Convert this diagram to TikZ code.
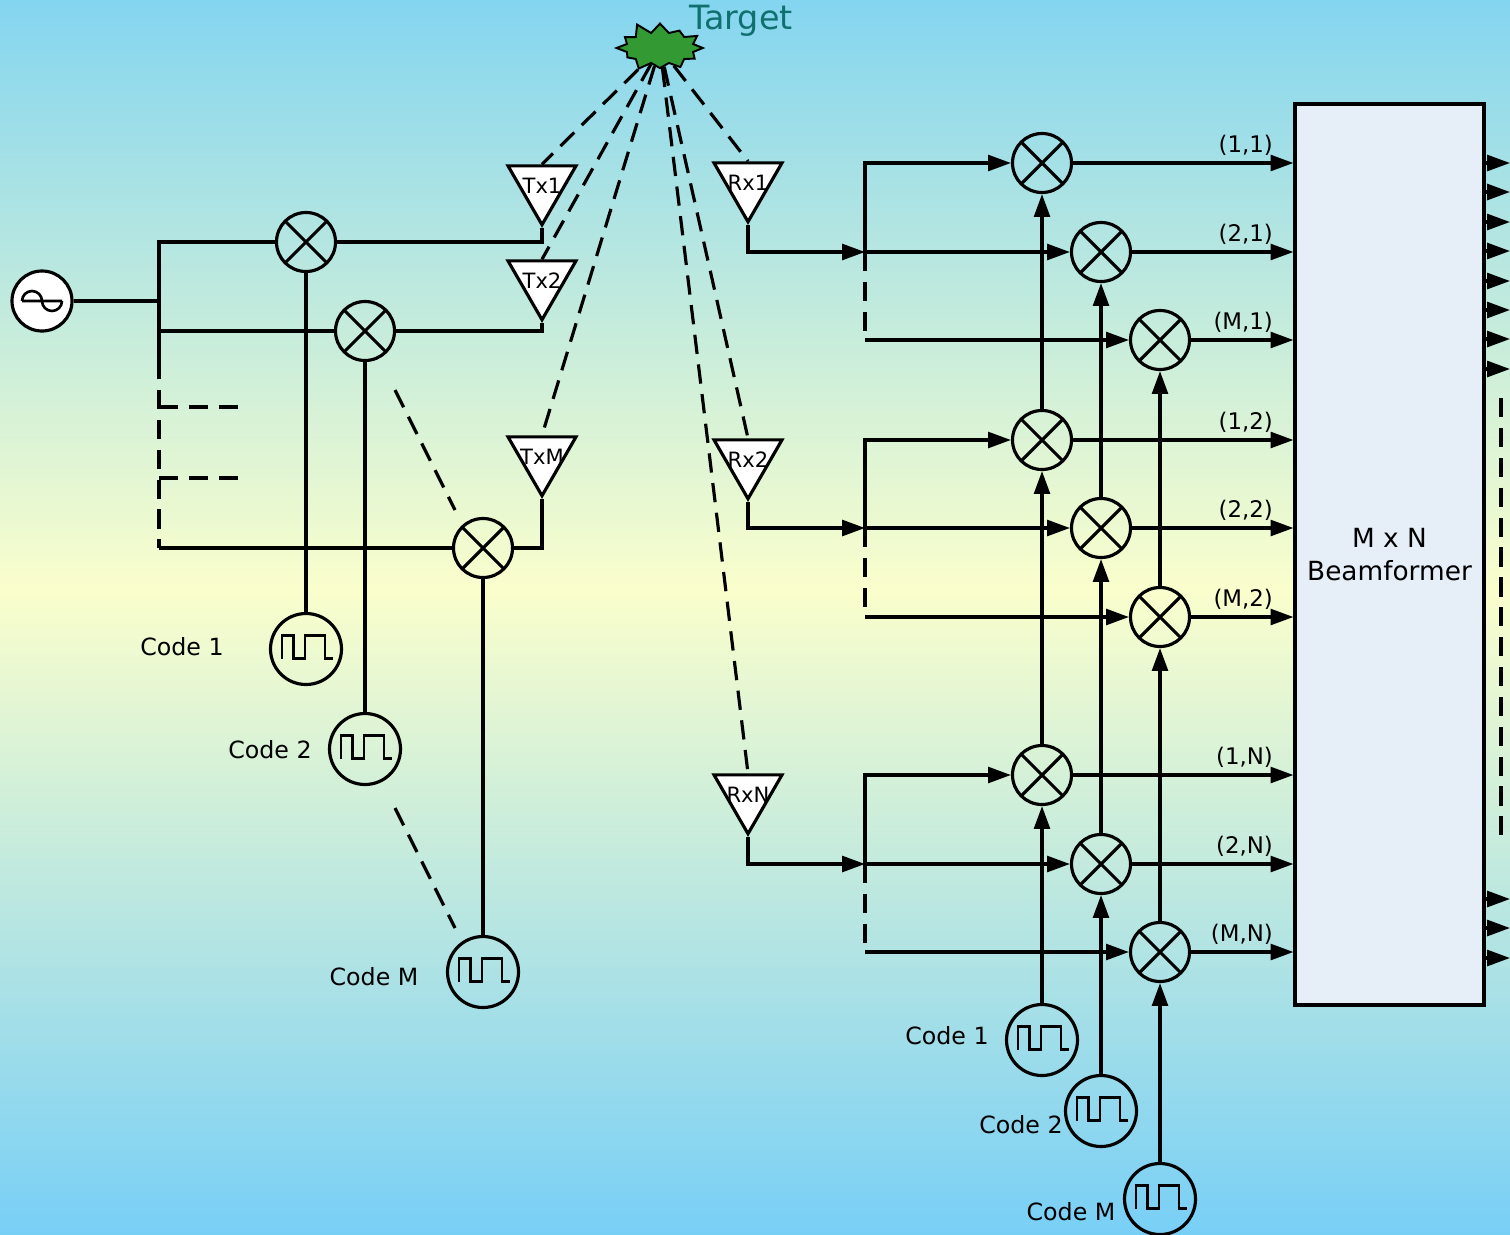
\documentclass[tikz,border=0pt]{standalone}
\usepackage{fontspec}
\setmainfont{DejaVu Sans}
\usetikzlibrary{positioning, arrows.meta, shapes.geometric, shapes.symbols}

\definecolor{skytop}{RGB}{132,213,240}
\definecolor{paleyel}{RGB}{250,254,204}
\definecolor{skybot}{RGB}{120,207,246}
\definecolor{burst}{RGB}{51,153,51}
\definecolor{tgtcol}{RGB}{16,112,112}
\definecolor{bfbox}{RGB}{230,238,248}

\begin{document}
\begin{tikzpicture}[
  line width=1.8pt,
  mixer/.style={draw, circle, minimum size=1.18cm, inner sep=0pt,
    path picture={\draw[line width=1.8pt]
      (path picture bounding box.south west) -- (path picture bounding box.north east)
      (path picture bounding box.north west) -- (path picture bounding box.south east);}},
  codegen/.style={draw, circle, minimum size=1.42cm, inner sep=0pt,
    path picture={\draw[line width=1.6pt]
      ([shift={(-0.48cm,-0.19cm)}]path picture bounding box.center)
      -- ++(0,0.46cm) -- ++(0.23cm,0) -- ++(0,-0.46cm) -- ++(0.23cm,0)
      -- ++(0,0.46cm) -- ++(0.40cm,0) -- ++(0,-0.46cm) -- ++(0.16cm,0);}},
  osc/.style={draw, circle, fill=white, minimum size=1.2cm, inner sep=0pt,
    path picture={\draw[line width=1.5pt]
      ([xshift=-0.4cm]path picture bounding box.center) -- ++(0.8cm,0)
      ([xshift=-0.4cm]path picture bounding box.center)
      arc[start angle=180, end angle=0, radius=0.2cm]
      arc[start angle=180, end angle=360, radius=0.2cm];}},
  ant/.style={regular polygon, regular polygon sides=3, shape border rotate=180,
    draw, fill=white, minimum size=1.57cm, inner sep=0pt},
  every label/.style={font=\fontsize{12}{14}\selectfont, inner sep=0pt},
  target/.style={starburst, starburst points=12, starburst point height=0.24cm,
    random starburst=11, draw, line width=1.1pt, fill=burst,
    minimum width=1.85cm, minimum height=1.1cm, inner sep=0pt},
  arrow/.style={-{Triangle[length=13pt, width=9pt]}},
  dashline/.style={dash pattern=on 11pt off 6pt},
  lbl/.style={font=\fontsize{13.5}{15}\selectfont},
  pair/.style={anchor=base east, pos=1, xshift=-0.38cm, yshift=0.22cm,
    inner sep=0pt, font=\fontsize{13}{15}\selectfont}
]

% Background
\useasboundingbox (0,0) rectangle (30.2,-24.68);
\shade[top color=skytop, bottom color=paleyel] (0,0) rectangle (30.2,-11.8);
\shade[top color=paleyel, bottom color=skybot] (0,-11.8) rectangle (30.2,-24.68);

% Transmitter: oscillator, mixers, antennas
\node[osc] (osc) at (0.84,-6.02) {};
\node[mixer] (m1) at (6.12,-4.84) {};
\node[mixer] (m2) at (7.30,-6.62) {};
\node[mixer] (mm) at (9.66,-10.96) {};

\node[ant, label=center:Tx1] (tx1) at (10.84,-3.71) {};
\node[ant, label=center:Tx2] (tx2) at (10.84,-5.61) {};
\node[ant, label=center:TxM] (txm) at (10.84,-9.13) {};

% Feed bus
\coordinate (b1) at (3.18,-4.84);
\coordinate (bo) at (3.18,-6.02);
\coordinate (b2) at (3.18,-6.62);
\coordinate (bd) at (3.18,-7.20);
\coordinate (bm) at (3.18,-10.96);
\draw (osc.east) -- (bo);
\draw (m1.west) -- (b1) -- (bd);
\draw (b2) -- (m2.west);
\draw[dashline] (bd) -- (bm);
\draw (bm) -- (mm.west);
\draw[dashline] (3.18,-8.14) -- (4.76,-8.14);
\draw[dashline] (3.18,-9.56) -- (4.76,-9.56);

\draw (m1.east) -| (tx1.south);
\draw (m2.east) -| (tx2.south);
\draw (mm.east) -| (txm.south);

% Transmit codes
\node[codegen] (c1) at (6.12,-12.98) {};
\node[codegen] (c2) at (7.30,-14.98) {};
\node[codegen] (cm) at (9.66,-19.44) {};
\node[lbl] (c1l) at (3.64,-12.94) {Code 1};
\node[lbl] (c2l) at (5.40,-15.00) {Code 2};
\node[lbl] (cml) at (7.48,-19.54) {Code M};
\draw (m1.south) -- (c1.north);
\draw (m2.south) -- (c2.north);
\draw (mm.south) -- (cm.north);
\draw[dashline] (7.90,-7.80) -- (9.10,-10.20);
\draw[dashline] (7.90,-16.16) -- (9.10,-18.56);

% Receive antennas
\node[ant, label=center:Rx1] (rx1) at (14.96,-3.65) {};
\node[ant, label=center:Rx2] (rx2) at (14.96,-9.19) {};
\node[ant, label=center:RxN] (rxn) at (14.96,-15.89) {};

% Target and paths
\node[target] (tgt) at (13.2,-0.96) {};
\node[font=\fontsize{19}{22}\selectfont, text=tgtcol] (tgtlbl) at (14.82,-0.42) {Target};
\foreach \a in {tx1,tx2,txm,rx1,rx2,rxn}
  \draw[dashline] (tgt) -- (\a.north);

% Beamformer
\node[draw, fill=bfbox, minimum width=3.78cm, minimum height=18.02cm, align=center,
  font=\fontsize{15}{19}\selectfont] (bf) at (27.79,-11.09) {M x N\\Beamformer};

% Matched filter bank, one group per receive antenna
\foreach \g/\l/\ya/\yb/\yc in {1/1/-3.26/-5.04/-6.80, 2/2/-8.80/-10.56/-12.34,
                               n/N/-15.50/-17.28/-19.04} {
  \node[mixer] (ma\g) at (20.84,\ya) {};
  \node[mixer] (mb\g) at (22.02,\yb) {};
  \node[mixer] (mc\g) at (23.20,\yc) {};
  \coordinate (rt\g) at (17.30,\ya);
  \coordinate (rj\g) at (17.30,\yb);
  \coordinate (rd\g) at (17.30,\yc+0.16);
  \coordinate (rs\g) at (17.30,\yc);
  \draw[arrow] (rx\g.south) |- (rj\g);
  \draw[arrow] (rj\g) -- (mb\g.west);
  \draw[arrow] (rj\g) -- (rt\g) -- (ma\g.west);
  \draw[dashline] (rj\g) -- (rd\g);
  \draw[arrow] (rs\g) -- (mc\g.west);
  \draw[arrow] (ma\g.east) -- (ma\g.east -| bf.west) node[pair] {(1,\l)};
  \draw[arrow] (mb\g.east) -- (mb\g.east -| bf.west) node[pair] {(2,\l)};
  \draw[arrow] (mc\g.east) -- (mc\g.east -| bf.west) node[pair] {(M,\l)};
}

% Receive codes
\node[codegen] (cr1) at (20.84,-20.80) {};
\node[codegen] (cr2) at (22.02,-22.22) {};
\node[codegen] (crm) at (23.20,-23.98) {};
\node[lbl] (cr1l) at (18.94,-20.72) {Code 1};
\node[lbl] (cr2l) at (20.42,-22.50) {Code 2};
\node[lbl] (crml) at (21.42,-24.24) {Code M};

\draw[arrow] (cr1.north) -- (man.south);
\draw[arrow] (man.north) -- (ma2.south);
\draw[arrow] (ma2.north) -- (ma1.south);
\draw[arrow] (cr2.north) -- (mbn.south);
\draw[arrow] (mbn.north) -- (mb2.south);
\draw[arrow] (mb2.north) -- (mb1.south);
\draw[arrow] (crm.north) -- (mcn.south);
\draw[arrow] (mcn.north) -- (mc2.south);
\draw[arrow] (mc2.north) -- (mc1.south);

% Beamformer outputs
\foreach \y in {-3.26,-3.84,-4.44,-5.02,-5.62,-6.20,-6.78,-7.38,-17.98,-18.56,-19.16}
  \draw[arrow] (29.68,\y) -- (30.2,\y);
\draw[dashline] (30.02,-7.96) -- (30.02,-16.70);

\end{tikzpicture}
\end{document}
